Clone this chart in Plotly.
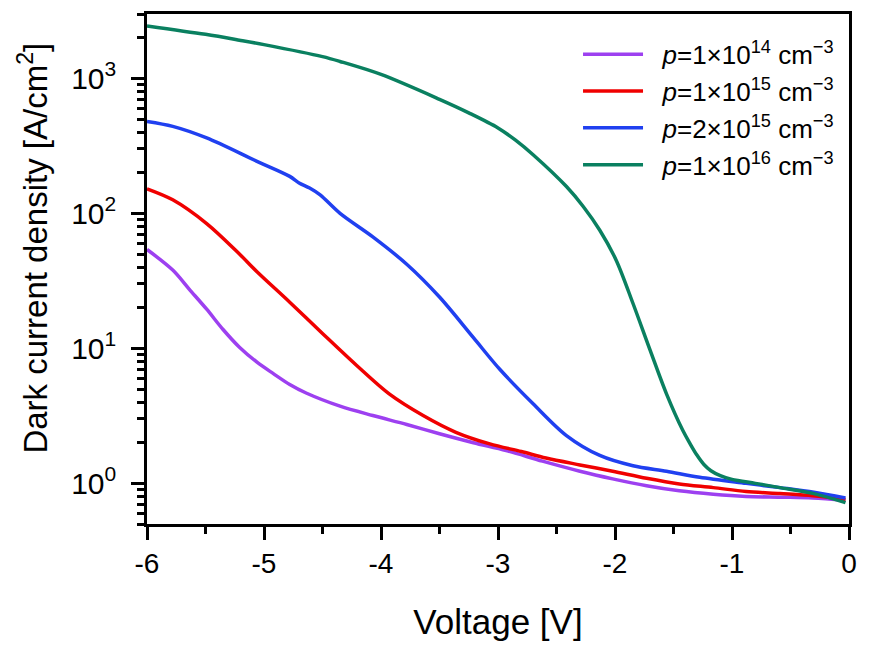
import plotly.graph_objects as go

# ---- data ----
labels = [
    "\u00a0\u00a0<i>p</i>=1×10<sup>14</sup> cm<sup>−3</sup>",
    "\u00a0\u00a0<i>p</i>=1×10<sup>15</sup> cm<sup>−3</sup>",
    "\u00a0\u00a0<i>p</i>=2×10<sup>15</sup> cm<sup>−3</sup>",
    "\u00a0\u00a0<i>p</i>=1×10<sup>16</sup> cm<sup>−3</sup>",
]
colors = ["#9d40f0", "#f00000", "#2040f0", "#0a8060"]

v_p14 = [-6.0, -5.78, -5.64, -5.49, -5.35, -5.21, -5.06, -4.92, -4.78, -4.64, -4.35, -4.07,
         -3.78, -3.50, -3.21, -2.93, -2.62, -2.3, -2.02, -1.73, -1.45, -1.16, -0.88, -0.59,
         -0.31, -0.03]
j_p14 = [54, 38, 27.5, 19.5, 13.8, 10.2, 7.9, 6.5, 5.4, 4.67, 3.73, 3.18,
         2.73, 2.33, 2.0, 1.75, 1.46, 1.23, 1.08, 0.96, 0.88, 0.83, 0.80, 0.79,
         0.78, 0.75]

v_p15 = [-6.0, -5.78, -5.49, -5.21, -5.06, -4.78, -4.50, -4.21, -3.93, -3.64, -3.36, -3.07,
         -2.8, -2.59, -2.3, -2.02, -1.73, -1.45, -1.16, -0.88, -0.59, -0.31, -0.03]
j_p15 = [152, 126, 84, 50, 37, 22, 12.9, 7.5, 4.6, 3.18, 2.39, 1.96,
         1.72, 1.54, 1.37, 1.23, 1.09, 0.99, 0.93, 0.87, 0.84, 0.81, 0.76]

v_2p15 = [-6.0, -5.78, -5.49, -5.06, -4.78, -4.70, -4.61, -4.52, -4.35, -4.07, -3.78, -3.50,
          -3.21, -2.985, -2.70, -2.415, -2.13, -1.846, -1.56, -1.276, -0.88, -0.59,
          -0.3, -0.03]
j_2p15 = [480, 441, 362, 243, 188, 168, 154, 137, 100, 67, 42, 24,
          12.0, 7.0, 3.89, 2.26, 1.61, 1.35, 1.23, 1.11, 1.0, 0.93,
          0.86, 0.78]

v_p16 = [-6.0, -5.5, -5.21, -5.0, -4.5, -4.35, -4.0, -3.5, -3.25, -3.0, -2.85, -2.70,
         -2.415, -2.27, -2.13, -1.99, -1.846, -1.70, -1.56, -1.42, -1.36, -1.30, -1.24,
         -1.18, -1.10, -1.0, -0.8, -0.59, -0.3, -0.03]
j_p16 = [2450, 2120, 1920, 1780, 1450, 1335, 1070, 700, 556, 430, 349, 272,
         158, 112, 75, 45, 21.5, 9.7, 4.6, 2.46, 1.98, 1.62, 1.38,
         1.24, 1.14, 1.07, 1.0, 0.93, 0.84, 0.72]

x_tickvals = [-6, -5, -4, -3, -2, -1, 0]
x_ticktext = ["-6", "-5", "-4", "-3", "-2", "-1", "0"]
y_tickvals = [1, 10, 100, 1000]
y_ticktext = ["10<sup>0</sup>", "10<sup>1</sup>", "10<sup>2</sup>", "10<sup>3</sup>"]
x_title = "Voltage [V]"
y_title = "Dark current density [A/cm<sup>2</sup>]"

series_v = [v_p14, v_p15, v_2p15, v_p16]
series_j = [j_p14, j_p15, j_2p15, j_p16]

SANS = "Liberation Sans, Arial, sans-serif"

fig = go.Figure()
for lab, col, vv, jj in zip(labels, colors, series_v, series_j):
    fig.add_trace(go.Scatter(x=vv, y=jj, mode="lines", name=lab,
                             line=dict(color=col, width=3.5, shape="spline", smoothing=0.9)))

axis_common = dict(
    showline=True, linecolor="black", linewidth=2.5, mirror=True,
    ticks="outside", ticklen=13, tickwidth=2.5, tickcolor="black",
    showgrid=False, zeroline=False, automargin=False,
)

fig.update_xaxes(
    range=[-6, 0], tickmode="array", tickvals=x_tickvals, ticktext=x_ticktext,
    tickfont=dict(family=SANS, size=28, color="black"),
    minor=dict(ticks="outside", ticklen=7, tickwidth=2.5, tickcolor="black", dtick=0.5, tick0=0),
    title=dict(text=x_title, font=dict(family=SANS, size=35, color="black"), standoff=32),
    **axis_common,
)
fig.update_yaxes(
    type="log", range=[-0.30103, 3.4771],
    tickmode="array", tickvals=y_tickvals, ticktext=y_ticktext,
    tickfont=dict(family=SANS, size=30, color="black"), ticklabelstandoff=9,
    minor=dict(ticks="outside", ticklen=7, tickwidth=2.5, tickcolor="black", dtick="D1"),
    **axis_common,
)

# y-axis title placed as a rotated annotation so its position along the axis matches
fig.add_annotation(
    text=y_title, textangle=-90, showarrow=False,
    xref="paper", yref="paper", x=0, y=0.54, xanchor="center", yanchor="middle",
    xshift=-114, font=dict(family=SANS, size=33, color="black"),
)

# The page body adds an 8px offset, so the figure is sized/margined to put the
# plot frame where the reference has it.
fig.update_layout(
    width=865, height=641,
    margin=dict(l=139, r=24, t=6, b=125),
    plot_bgcolor="white", paper_bgcolor="white",
    legend=dict(x=0.614, y=0.967, xanchor="left", yanchor="top",
                font=dict(family=SANS, size=26, color="black"),
                bgcolor="rgba(0,0,0,0)", itemwidth=60, tracegroupgap=0),
    showlegend=True,
)

fig.write_html("out.html")
